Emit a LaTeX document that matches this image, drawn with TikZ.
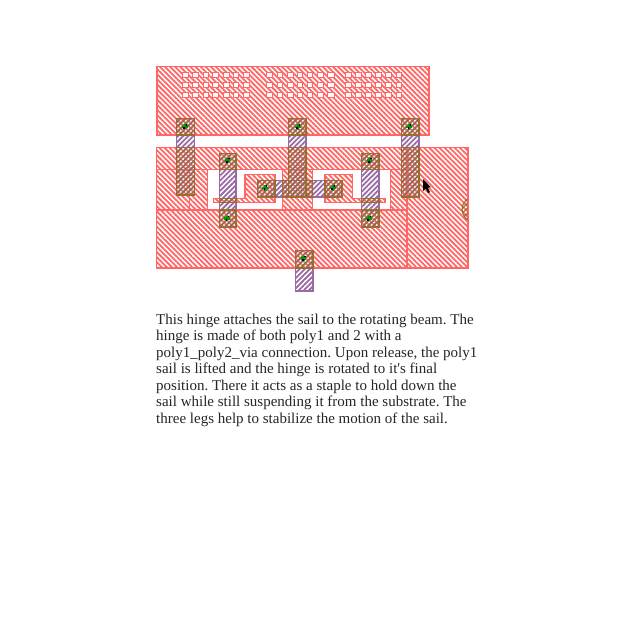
\documentclass[tikz,border=0pt]{standalone}
\usepackage{fontspec}
\newfontfamily\paraf{Liberation Serif}
\usetikzlibrary{patterns.meta}
\definecolor{lred}{HTML}{FF6666}
\definecolor{lpur}{HTML}{9A6AA6}
\definecolor{loli}{HTML}{94702C}
\tikzset{
  redh/.style={draw=lred,line width=1.1pt,pattern={Lines[angle=-45,distance=3.6pt,line width=1.8pt]},pattern color=lred},
  cutw/.style={draw=lred,line width=1.1pt,fill=white},
  redl/.style={draw=lred,line width=1.1pt},
  purh/.style={draw=lpur,line width=1.1pt,pattern={Lines[angle=45,distance=3.6pt,line width=1.8pt]},pattern color=lpur},
  olih/.style={draw=loli,line width=1.1pt,pattern={Lines[angle=45,distance=3.6pt,line width=1.1pt]},pattern color=loli},
  para/.style={anchor=base west,inner sep=0pt,text=black!85,font=\paraf\frenchspacing\fontsize{15}{16}\selectfont}
}
\newcommand{\via}[2]{%
  \fill[green!60!black] (#1-2.8,#2-1.2) rectangle (#1+2.8,#2+1.2);
  \fill[green!60!black] (#1-1.2,#2-2.8) rectangle (#1+1.2,#2+2.8);
  \fill[black] (#1-1.4,#2+0.5) rectangle (#1+0.4,#2+2.4);
  \fill[black] (#1+1,#2-2.4) rectangle (#1+2.4,#2-1);}
\begin{document}
\begin{tikzpicture}[x=1pt,y=-1pt]
\path[use as bounding box,fill=white] (0,0) rectangle (640,640);
% top plate
\draw[redh] (157,66.5) rectangle (429,135);
\foreach \y in {75,85,95.3}{
  \foreach \x/\w in {185.3/6.5,195.3/6.5,206/5.5,215.3/6.5,226/6,236/5.5,246.3/6,269.3/6.5,280/5.5,290/6,299.7/5.5,310/5.5,320.3/6.5,330.7/6.5,348.3/6.5,358.3/6.5,368.3/6.5,378.3/6.5,388.3/6.5,399/5}{
    \draw[line width=.8pt,draw=lred,fill=white] (\x-\w/2,\y-2.5) rectangle (\x+\w/2,\y+2.5);
  }}
% lower plate
\draw[redh] (156.5,147.5) rectangle (468,268);
\draw[cutw] (207.5,169.5) rectangle (282.5,210);
\draw[cutw] (312.5,169.5) rectangle (390.5,210);
\draw[redl] (156.5,169.5) -- (207.5,169.5);
\draw[redl] (282.5,169.5) -- (312.5,169.5);
\draw[redl] (390.5,169.5) -- (407,169.5);
\draw[redl] (156.5,210) -- (407,210);
\draw[redl] (189.5,169.5) -- (189.5,210);
\draw[redl] (407,147.5) -- (407,268);
% islands
\draw[redh] (245,174.5) -- (275,174.5) -- (275,202.5) -- (213.5,202.5) -- (213.5,198.5) -- (245,198.5) -- cycle;
\draw[redh] (325,174.5) -- (352.5,174.5) -- (352.5,198.5) -- (385,198.5) -- (385,202.5) -- (325,202.5) -- cycle;
% half contact at right edge
\begin{scope}
\clip (440,190) rectangle (467.5,230);
\draw[olih] (474.5,209.5) circle (12.5);
\end{scope}
% horizontal link
\draw[purh] (257.5,180.5) rectangle (342,197);
\draw[olih] (257.5,180.5) rectangle (275,197);
\draw[olih] (325,180.5) rectangle (342,197);
\draw[olih] (282.5,180.5) rectangle (312.5,197);
% long legs
\foreach \a/\b/\e in {176.5/194.5/195,288.5/306/197,401.5/419/197}{
  \draw[purh] (\a,118.5) rectangle (\b,\e);
  \draw[olih] (\a,118.5) rectangle (\b,135);
  \draw[olih] (\a,147.5) rectangle (\b,\e);
}
% short legs
\foreach \a/\b in {219.5/236,361.5/379}{
  \draw[purh] (\a,153.5) rectangle (\b,227);
  \draw[olih] (\a,153.5) rectangle (\b,169.5);
  \draw[olih] (\a,198.5) rectangle (\b,202.5);
  \draw[olih] (\a,210) rectangle (\b,227);
}
% bottom leg
\draw[purh] (295.5,250.5) rectangle (313,291);
\draw[olih] (295.5,250.5) rectangle (313,268);
% vias
\via{184.7}{126.5}\via{297.7}{126.7}\via{409}{126.7}
\via{227.3}{160.3}\via{227}{218.3}\via{369.3}{160.3}\via{368.7}{218.3}
\via{303.3}{258.3}\via{265}{187.7}\via{332.7}{187.7}
% cursor
\fill[black] (423,179) -- (423,191) -- (425.8,188.6) -- (428,193) -- (430,192.2) -- (427.8,187.6) -- (431,187.4) -- cycle;
% text
\node[para] (t1) at (156,324) {This hinge attaches the sail to the rotating beam. The};
\node[para] (t2) at (156,340.5) {hinge is made of both poly1 and 2 with a};
\node[para] (t3) at (156,357) {poly1\_poly2\_via connection. Upon release, the poly1};
\node[para] (t4) at (156,373.5) {sail is lifted and the hinge is rotated to it's final};
\node[para] (t5) at (156,390) {position. There it acts as a staple to hold down the};
\node[para] (t6) at (156,406.5) {sail while still suspending it from the substrate. The};
\node[para] (t7) at (156,423) {three legs help to stabilize the motion of the sail.};
\end{tikzpicture}
\end{document}
